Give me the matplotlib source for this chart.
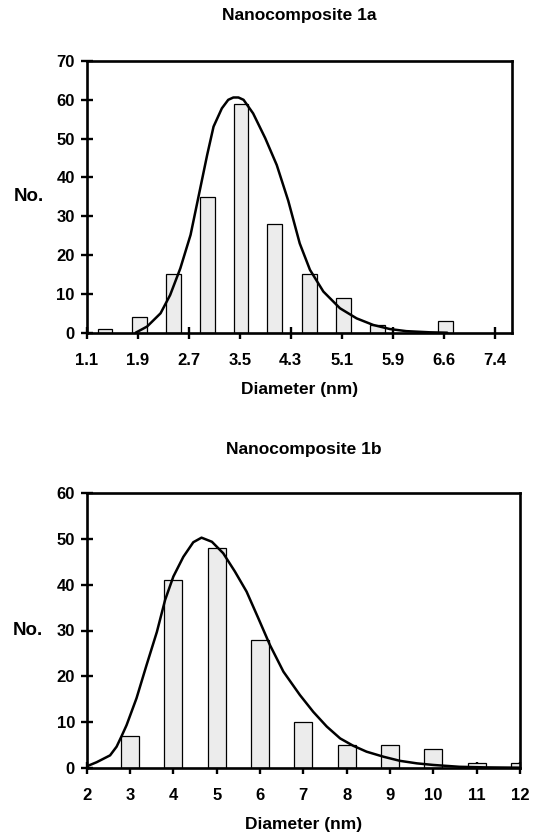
import matplotlib
matplotlib.use("Agg")
import matplotlib.pyplot as plt

plt.rcParams['font.family'] = ['Liberation Sans', 'DejaVu Sans']
plt.rcParams['font.weight'] = 'bold'

# ---------------- Nanocomposite 1a ----------------
a_bar_x = [1.39, 1.93, 2.46, 2.99, 3.52, 4.05, 4.59, 5.12, 5.66, 6.19, 6.72]
a_counts = [1, 4, 15, 35, 59, 28, 15, 9, 2, 0, 3]
a_fit_x = [1.87, 2.05, 2.26, 2.41, 2.57, 2.73, 2.86, 2.99, 3.09, 3.22, 3.32,
           3.40, 3.48, 3.56, 3.71, 3.90, 4.08, 4.26, 4.44, 4.60, 4.81, 5.07,
           5.33, 5.59, 5.85, 6.11, 6.48, 6.75]
a_fit_y = [0.0, 1.6, 5.0, 9.7, 16.6, 25.2, 35.5, 45.8, 53.1, 57.8, 60.0,
           60.6, 60.6, 60.0, 56.5, 50.1, 43.2, 34.0, 23.0, 16.2, 10.6, 6.3,
           3.7, 2.0, 0.95, 0.4, 0.1, 0.0]
a_tick_pos = [1.1, 1.9, 2.7, 3.5, 4.3, 5.1, 5.9, 6.7, 7.5]
a_tick_labels = ["1.1", "1.9", "2.7", "3.5", "4.3", "5.1", "5.9", "6.6", "7.4"]
a_yticks = [0, 10, 20, 30, 40, 50, 60, 70]

# ---------------- Nanocomposite 1b ----------------
b_bar_x = [3, 4, 5, 6, 7, 8, 9, 10, 11, 12]
b_counts = [7, 41, 48, 28, 10, 5, 5, 4, 1, 1]
b_fit_x = [2.00, 2.23, 2.54, 2.69, 2.81, 2.92, 3.15, 3.38, 3.62, 3.81, 4.00,
           4.23, 4.46, 4.65, 4.89, 5.15, 5.42, 5.69, 5.96, 6.23, 6.54, 6.92,
           7.23, 7.54, 7.85, 8.15, 8.46, 8.85, 9.23, 9.62, 10.0, 10.6, 11.2, 12.0]
b_fit_y = [0.3, 1.2, 2.7, 4.6, 7.0, 9.3, 15.2, 22.4, 29.7, 36.7, 41.8,
           46.1, 49.3, 50.3, 49.4, 46.9, 42.9, 38.5, 32.7, 26.8, 21.0, 15.9,
           12.2, 9.0, 6.4, 4.8, 3.5, 2.4, 1.5, 0.95, 0.6, 0.2, 0.07, 0.0]
b_tick_pos = [2, 3, 4, 5, 6, 7, 8, 9, 10, 11, 12]
b_tick_labels = ["2", "3", "4", "5", "6", "7", "8", "9", "10", "11", "12"]
b_yticks = [0, 10, 20, 30, 40, 50, 60]

W, H = 534, 839
fig = plt.figure(figsize=(W / 100, H / 100), dpi=100)

ax1 = fig.add_axes([86.5 / W, 1 - 332.7 / H, (511.7 - 86.5) / W, (332.7 - 61) / H])
ax2 = fig.add_axes([86.7 / W, 1 - 767.7 / H, (520 - 86.7) / W, (767.7 - 493.3) / H])

TICK_FS = 12
LABEL_FS = 12.5


def draw(ax, bx, counts, width, fx, fy, xlim, ylim, tpos, tlab, yt, title, title_y, xl_y):
    ax.bar(bx, counts, width=width, color='#ececec', edgecolor='black',
           linewidth=0.9, zorder=2)
    ax.plot(fx, fy, color='black', linewidth=1.8, zorder=4,
            solid_capstyle='round', solid_joinstyle='round')
    ax.set_xlim(*xlim)
    ax.set_ylim(*ylim)
    ax.set_xticks(tpos)
    ax.set_xticklabels(tlab)
    ax.set_yticks(yt)
    ax.tick_params(axis='both', direction='inout', length=9, width=1.7,
                   labelsize=TICK_FS, color='black')
    ax.tick_params(axis='x', pad=10)
    ax.tick_params(axis='y', pad=4)
    for lab in ax.get_xticklabels() + ax.get_yticklabels():
        lab.set_fontweight('bold')
    for sp in ax.spines.values():
        sp.set_linewidth(1.9)
        sp.set_color('black')
    ax.set_title(title, fontsize=LABEL_FS, fontweight='bold', y=title_y, va='center')
    ax.set_xlabel('Diameter (nm)', fontsize=LABEL_FS, fontweight='bold')
    ax.xaxis.set_label_coords(0.5, xl_y)
    ax.set_ylabel('No.', fontsize=LABEL_FS + 1, fontweight='bold', rotation=0,
                  ha='center', va='center')
    ax.yaxis.set_label_coords(-0.135, 0.5)


draw(ax1, a_bar_x, a_counts, 0.234, a_fit_x, a_fit_y, (1.1, 7.76), (0, 70),
     a_tick_pos, a_tick_labels, a_yticks, 'Nanocomposite 1a', 1.138, -0.182)
draw(ax2, b_bar_x, b_counts, 0.42, b_fit_x, b_fit_y, (2, 12), (0, 60),
     b_tick_pos, b_tick_labels, b_yticks, 'Nanocomposite 1b', 1.13, -0.18)

fig.savefig('out.png', dpi=100, facecolor='white')
